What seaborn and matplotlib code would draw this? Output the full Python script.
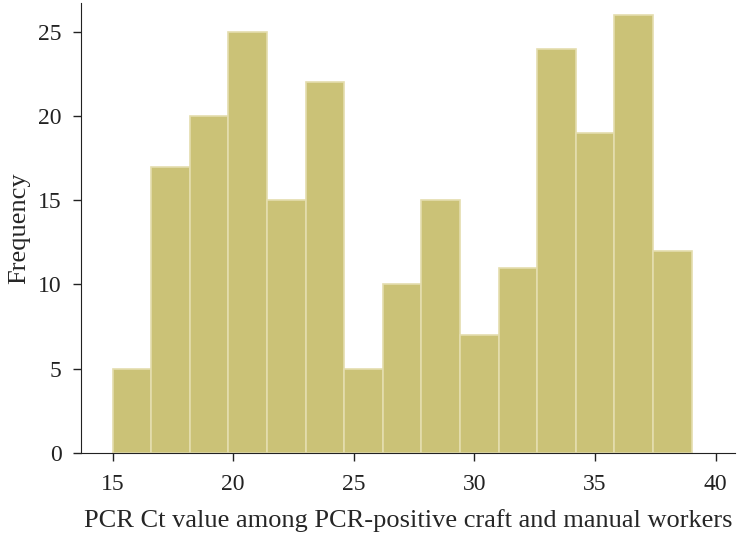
import numpy as np
import matplotlib
matplotlib.use('Agg')
import matplotlib.pyplot as plt
import seaborn as sns

# bins of width 1.6 from 15 to 39
bin_edges = [15.0, 16.6, 18.2, 19.8, 21.4, 23.0, 24.6, 26.2, 27.8,
             29.4, 31.0, 32.6, 34.2, 35.8, 37.4, 39.0]
counts = [5, 17, 20, 25, 15, 22, 5, 10, 15, 7, 11, 24, 19, 26, 12]
x_ticks = [15, 20, 25, 30, 35, 40]
y_ticks = [0, 5, 10, 15, 20, 25]

centers = [(a + b) / 2 for a, b in zip(bin_edges[:-1], bin_edges[1:])]

sns.set_style('ticks')
plt.rcParams['font.family'] = ['Liberation Serif', 'DejaVu Serif']

fig = plt.figure(figsize=(7.38, 5.41), dpi=100)
ax = fig.add_axes([0.11, 0.163, 0.886, 0.831])

sns.histplot(x=centers, weights=counts, bins=bin_edges, ax=ax,
             color='#CBC277', alpha=1, edgecolor='#E4DDAE', linewidth=1.2)

ax.set_xlim(13.7, 40.8)
ax.set_ylim(0, 26.7)
ax.set_xticks(x_ticks)
ax.set_yticks(y_ticks)
ax.tick_params(labelsize=17, length=6, width=1, colors='#222222')
ax.tick_params(axis='x', pad=9)
ax.tick_params(axis='y', pad=8)
ax.set_xlabel('PCR Ct value among PCR-positive craft and manual workers',
              fontsize=19, labelpad=10)
ax.set_ylabel('Frequency', fontsize=19, labelpad=6)
for s in ['left', 'bottom']:
    ax.spines[s].set_color('#222222')
sns.despine(ax=ax)

fig.savefig('out.png', dpi=100)
